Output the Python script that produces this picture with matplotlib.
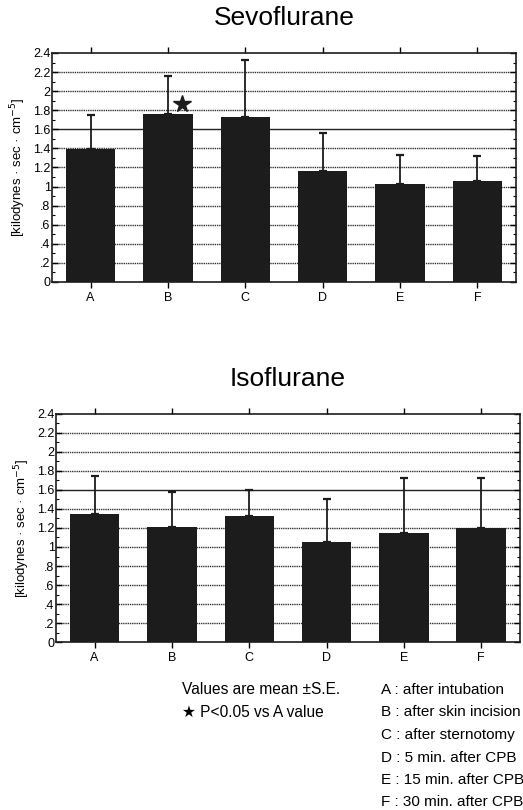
import matplotlib
matplotlib.use("Agg")
import matplotlib.pyplot as plt
from matplotlib.ticker import MultipleLocator

plt.rcParams['font.family'] = ['Liberation Sans', 'DejaVu Sans']

categories = ["A", "B", "C", "D", "E", "F"]
sevo_mean = [1.39, 1.76, 1.73, 1.16, 1.03, 1.06]
sevo_se = [0.36, 0.40, 0.60, 0.40, 0.30, 0.26]
iso_mean = [1.35, 1.21, 1.33, 1.05, 1.15, 1.20]
iso_se = [0.40, 0.37, 0.27, 0.46, 0.58, 0.53]
yticks = [0, 0.2, 0.4, 0.6, 0.8, 1.0, 1.2, 1.4, 1.6, 1.8, 2.0, 2.2, 2.4]
ytick_labels = ["0", ".2", ".4", ".6", ".8", "1", "1.2", "1.4", "1.6", "1.8", "2", "2.2", "2.4"]
legend_left = ["Values are mean \u00b1S.E.", "\u2605 P<0.05 vs A value"]
legend_right = ["A : after intubation", "B : after skin incision", "C : after sternotomy",
                "D : 5 min. after CPB", "E : 15 min. after CPB", "F : 30 min. after CPB"]
star_cat = 1

fig = plt.figure(figsize=(5.23, 8.10), dpi=100)
ax1 = fig.add_axes([0.0994, 0.6519, 0.8872, 0.2827])
ax2 = fig.add_axes([0.107, 0.2074, 0.887, 0.2815])

def draw(ax, means, ses, title):
    x = list(range(len(categories)))
    for y in yticks[1:-1]:
        if abs(y - 1.6) < 1e-9:
            ax.axhline(y, color="#222222", lw=1.0, zorder=0)
        else:
            ax.axhline(y, color="#333333", lw=1.0, ls=(0, (1, 0.6)), zorder=0)
    ax.bar(x, means, width=0.64, color="#1c1c1c", zorder=2)
    ax.errorbar(x, means, yerr=[[0]*len(means), ses], fmt="none", ecolor="#1c1c1c",
                elinewidth=1.3, capsize=3, capthick=1.6, zorder=3)
    ax.set_xlim(-0.5, len(categories) - 0.5)
    ax.set_ylim(0, 2.4)
    ax.set_xticks(x)
    ax.set_xticklabels(categories, fontsize=9)
    ax.set_yticks(yticks)
    ax.set_yticklabels(ytick_labels, fontsize=9)
    ax.yaxis.set_minor_locator(MultipleLocator(0.1))
    ax.tick_params(axis="x", which="both", direction="out", length=4, width=1,
                   top=True, bottom=True, pad=3)
    ax.tick_params(axis="y", which="major", direction="in", length=4, width=1,
                   left=True, right=True, pad=1)
    ax.tick_params(axis="y", which="minor", direction="in", length=2.5, width=0.8,
                   left=True, right=True)
    for s in ax.spines.values():
        s.set_linewidth(1.2)
        s.set_color("#1c1c1c")
    ax.set_ylabel("[kilodynes \u00b7 sec \u00b7 cm$^{-5}$]", fontsize=9.5, labelpad=4)
    ax.set_title(title, fontsize=19, pad=20)

draw(ax1, sevo_mean, sevo_se, "Sevoflurane")
draw(ax2, iso_mean, iso_se, "Isoflurane")
ax1.plot(star_cat + 0.18, 1.87, marker="*", markersize=13, color="#1c1c1c", zorder=4)

for i, t in enumerate(legend_left):
    fig.text(0.348, 1 - (690 + 22.6 * i) / 810, t, fontsize=11.2,
             va="center", ha="left")
for i, t in enumerate(legend_right):
    fig.text(0.729, 1 - (690 + 22.5 * i) / 810, t, fontsize=11, va="center", ha="left")

fig.savefig("out.png", dpi=100)
